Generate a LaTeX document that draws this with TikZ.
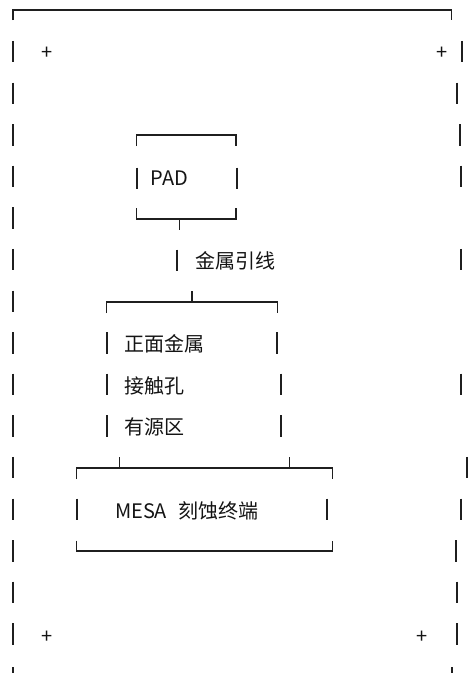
\documentclass[tikz,border=0pt]{standalone}
\usepackage{fontspec}
\setmainfont{Noto Sans CJK SC}
\begin{document}
\begin{tikzpicture}[x=1pt,y=-1pt,
  ink/.style={draw=black!88},
  hline/.style={ink,line width=1.3pt},
  vbar/.style={ink,line width=2pt},
  lbl/.style={anchor=base west,inner sep=0pt,outer sep=0pt,font=\fontsize{20pt}{24pt}\selectfont,text=black!92},
  plus/.style={anchor=base,inner sep=0pt,outer sep=0pt,font=\fontsize{20pt}{24pt}\selectfont,text=black!92}]
\useasboundingbox (0,0) rectangle (468,673);
% outer frame: top
\draw[hline] (13,20) -- (13,10) -- (451.7,10) -- (451.7,20);
% left bars
\foreach \k in {1,...,15}{
  \draw[vbar] (13,{10+41.6*\k-10.7}) -- (13,{10+41.6*\k+10.7});
}
\draw[vbar] (13,667) -- (13,673);
% right bars
\foreach \xx/\k in {462.3/1,457/2,460/3,460.7/4,460.7/6,460.7/9,466.7/11,461.3/12,456.3/13,457.3/14,457.3/15}{
  \draw[vbar] (\xx,{10+41.6*\k-10.7}) -- (\xx,{10+41.6*\k+10.7});
}
\draw[vbar] (451.7,667) -- (451.7,673);
% plus signs
\node[plus] (p1) at (46.7,59) {+};
\node[plus] (p2) at (441.7,59) {+};
\node[plus] (p3) at (47,643.5) {+};
\node[plus] (p4) at (421.7,643.5) {+};
% PAD box
\draw[hline] (136.7,146) -- (136.7,135) -- (236,135) -- (236,146);
\draw[vbar] (136.7,167.5) -- (136.7,189);
\draw[vbar] (236.7,167.5) -- (236.7,189);
\node[lbl] (pad) at (150.7,185.5) {PAD};
\draw[hline] (136.7,208) -- (136.7,219) -- (236,219) -- (236,208);
\coordinate (padtick) at (179.3,219);
\draw[hline] (padtick) -- ++(0,11);
% lead
\draw[vbar] (177.3,249.5) -- (177.3,271);
\node[lbl] (lead) at (195,268.5) {金属引线};
% bracket 2
\coordinate (b2tick) at (192,302);
\draw[hline] (b2tick) -- ++(0,-11);
\draw[hline] (106.7,313) -- (106.7,302) -- (277.3,302) -- (277.3,313);
\foreach \xx/\k in {106.7/8,277.3/8,106.7/9,281/9,106.7/10,281/10}{
  \draw[vbar] (\xx,{10+41.6*\k-10.7}) -- (\xx,{10+41.6*\k+10.7});
}
\node[lbl] (front) at (124.3,351.5) {正面金属};
\node[lbl] (contact) at (124.3,393.5) {接触孔};
\node[lbl] (active) at (124.3,434.5) {有源区};
% MESA box
\draw[hline] (76.7,479) -- (76.7,468) -- (332.7,468) -- (332.7,479);
\draw[hline] (119.3,468) -- (119.3,457);
\draw[hline] (289.3,468) -- (289.3,457);
\draw[vbar] (76.7,{10+41.6*12-10.7}) -- (76.7,{10+41.6*12+10.7});
\draw[vbar] (327.3,{10+41.6*12-10.7}) -- (327.3,{10+41.6*12+10.7});
\node[lbl] (mesa) at (115,518.5) {MESA\hspace{0.55em}刻蚀终端};
\draw[hline] (76.7,540.5) -- (76.7,551) -- (332.7,551) -- (332.7,540.5);
\end{tikzpicture}
\end{document}
